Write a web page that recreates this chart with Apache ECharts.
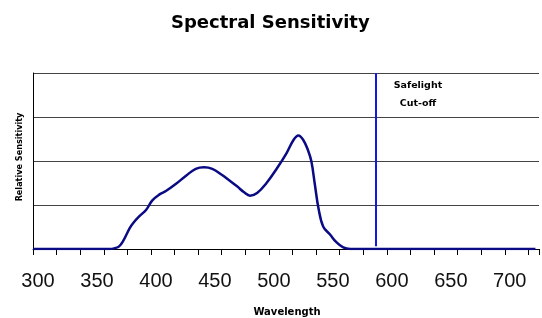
<!DOCTYPE html>
<html><head><meta charset="utf-8">
<script src="https://cdn.jsdelivr.net/npm/echarts@6/dist/echarts.min.js"></script>
<style>html,body{margin:0;padding:0;background:#fff;overflow:hidden}#c{width:542px;height:318px}</style>
</head><body><div id="c"></div>
<script>
const wavelengths = [300,320,340,356,365,370,373,376,382,385,390,396,401,407,413,421,430,438,445,452,460,466,473,479,484,490,498,507,515,521,525,529,533,536,539,542,546,552,557,563,569,590,620,650,680,710,726];
const sensitivity = [0,0,0,0,0,0.6,1.5,4,11.9,14.8,18.5,22.3,27.5,30.9,33.1,36.9,41.8,45.5,46.4,45.5,42.2,39.2,35.6,32.2,30.3,31.8,37.5,46,54.5,62.1,64.5,62.1,56.4,49.8,36.5,23.3,12.8,8.1,4,0.9,0,0,0,0,0,0,0];
const xLabels = [300,350,400,450,500,550,600,650,700];
const cutoff = 590.5;
const titleText = 'Spectral Sensitivity';
const xName = 'Wavelength';
const yName = 'Relative Sensitivity';
const cutoffText = 'Safelight\nCut-off';

const chart = echarts.init(document.getElementById('c'));
const grid = {left:33, right:0, top:73, height:176};
chart.setOption({
  animation:false,
  title:{text:titleText,left:166,top:9,textStyle:{fontFamily:'DejaVu Sans',fontWeight:'bold',fontSize:18,color:'#000'}},
  grid:grid,
  xAxis:[{
    type:'value',min:300,max:729,interval:10,
    axisLine:{show:true,lineStyle:{color:'#000',width:1}},
    axisTick:{show:false},
    splitLine:{show:false},
    axisLabel:{color:'#111',fontFamily:'Liberation Sans',fontSize:20,margin:22,padding:[0,0,0,10],
      formatter:v=>xLabels.indexOf(Math.round(v))>=0?String(Math.round(v)):''}
  },{
    type:'value',min:300,max:729,interval:20,position:'bottom',
    axisLine:{show:false},
    axisTick:{show:true,length:6,inside:false,lineStyle:{color:'#000',width:1}},
    axisLabel:{show:false},splitLine:{show:false}
  }],
  yAxis:{type:'value',min:0,max:100,interval:25,
    axisLine:{show:true,lineStyle:{color:'#000',width:1}},
    axisTick:{show:false},axisLabel:{show:false},
    splitLine:{show:true,lineStyle:{color:'#444',width:1}}},
  graphic:[
    {type:'text',x:287,y:312,style:{text:xName,font:'bold 10px "DejaVu Sans"',fill:'#000',textAlign:'center',textVerticalAlign:'middle'}},
    {type:'text',x:20,y:157,rotation:Math.PI/2,style:{text:yName,font:'bold 9px "DejaVu Sans Condensed"',fill:'#000',textAlign:'center',textVerticalAlign:'middle'}},
    {type:'text',x:418,y:95,style:{text:cutoffText,font:'bold 9.5px "DejaVu Sans"',fill:'#000',textAlign:'center',textVerticalAlign:'middle',lineHeight:18}}
  ],
  series:[{
    type:'line',xAxisIndex:0,
    data:wavelengths.map((w,i)=>[w,sensitivity[i]]),
    showSymbol:false,smooth:0.4,
    lineStyle:{color:'#0a0a84',width:2.5},
    markLine:{silent:true,symbol:'none',label:{show:false},
      lineStyle:{color:'#1515e6',width:2,type:'solid'},
      data:[[{coord:[cutoff,1.5]},{coord:[cutoff,100]}]]}
  }]
});
</script></body></html>
